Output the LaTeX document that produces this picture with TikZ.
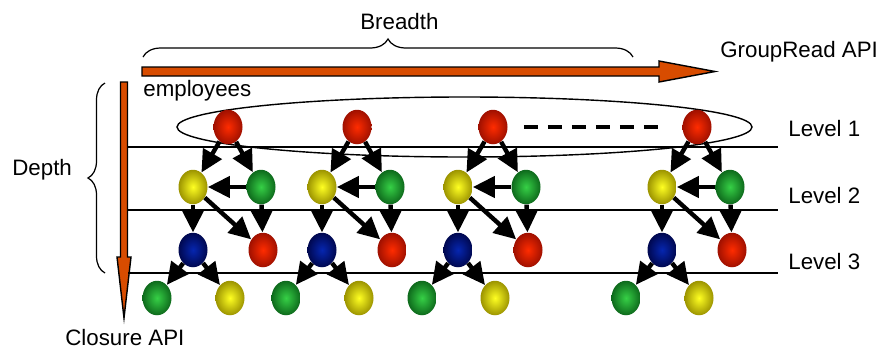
\documentclass[tikz,border=0pt]{standalone}
\usepackage{fontspec}
\setmainfont{Liberation Sans}
\usetikzlibrary{arrows.meta}
\usetikzlibrary{shapes.geometric}
\usetikzlibrary{decorations.pathreplacing}
\definecolor{colorOrange}{HTML}{D84C00}
\definecolor{colorRed}{HTML}{FF2C00}
\definecolor{colorRedDark}{HTML}{A01000}
\definecolor{colorYellow}{HTML}{FFFF22}
\definecolor{colorYellowDark}{HTML}{9C9400}
\definecolor{colorGreen}{HTML}{36D046}
\definecolor{colorGreenDark}{HTML}{0E6A1C}
\definecolor{colorBlue}{HTML}{0626B0}
\definecolor{colorBlueDark}{HTML}{000850}
\begin{document}
\begin{tikzpicture}[x=0.02cm, y=-0.02cm,
	ball/.style={ellipse, minimum width=0.58cm, minimum height=0.69cm, inner sep=0pt, shade},
	redball/.style={ball, inner color=colorRed, outer color=colorRedDark},
	yellowball/.style={ball, inner color=colorYellow, outer color=colorYellowDark},
	greenball/.style={ball, inner color=colorGreen, outer color=colorGreenDark},
	blueball/.style={ball, inner color=colorBlue, outer color=colorBlueDark},
	link/.style={-{Triangle[length=0.44cm,width=0.42cm]}, line width=2.5pt},
	txt/.style={anchor=base west, inner sep=0pt, font=\fontsize{12.7pt}{15pt}\selectfont},
	]

	\useasboundingbox (0,0) rectangle (881,352);

	% textes
	\node[txt] (breadth) at (360,29) {Breadth};
	\node[txt] (groupread) at (720,57) {GroupRead API};
	\node[txt] (employees) at (143,96) {employees};
	\node[txt] (depth) at (12,175) {Depth};
	\node[txt] (closure) at (65,345) {Closure API};
	\node[txt] (level1) at (788,136) {Level 1};
	\node[txt] (level2) at (788,203) {Level 2};
	\node[txt] (level3) at (788,269) {Level 3};

	% accolades
	\draw[line width=0.7pt, decorate, decoration={brace, amplitude=0.36cm}] (143,57) -- (633,57);
	\draw[line width=0.7pt, decorate, decoration={brace, amplitude=0.34cm}] (105,273) -- (105,83);

	% fleches oranges
	\filldraw[fill=colorOrange, line width=0.8pt] (142,67) -- (659,67) -- (659,61) -- (715,71.5) -- (659,82) -- (659,76) -- (142,76) -- cycle;
	\filldraw[fill=colorOrange, line width=0.8pt] (120.5,82) -- (127.5,82) -- (127.5,257) -- (131,257) -- (124,318) -- (117,257) -- (120.5,257) -- cycle;

	% niveaux
	\foreach \y in {147,210,273}
		\draw[line width=0.9pt] (128,\y) -- (778,\y);
	\draw[line width=0.8pt] (464.5,127) ellipse [x radius=287.5, y radius=30];

	% arbres
	\foreach \x/\i in {193/1, 322/2, 458/3, 662/4}{
		\node[redball] (top\i) at (\x+35,127) {};
		\node[yellowball] (yel\i) at (\x,187) {};
		\node[greenball] (gre\i) at (\x+68,187) {};
		\node[blueball] (blu\i) at (\x,250) {};
		\node[redball] (red\i) at (\x+70,250) {};
		\node[greenball] (leafg\i) at (\x-36,298) {};
		\node[yellowball] (leafy\i) at (\x+37,298) {};
		\draw[link] (top\i) -- (yel\i);
		\draw[link] (top\i) -- (gre\i);
		\draw[link] (gre\i) -- (yel\i);
		\draw[link] (yel\i) -- (red\i);
		\draw[link] (gre\i) -- (red\i);
		\draw[link] (yel\i) -- (blu\i);
		\draw[link] (blu\i) -- (leafg\i);
		\draw[link] (blu\i) -- (leafy\i);
	}

	\draw[line width=1.8pt, dash pattern=on 0.28cm off 0.2cm, shorten <=0.32cm, shorten >=0.4cm] (top3) -- (top4);

\end{tikzpicture}
\end{document}
